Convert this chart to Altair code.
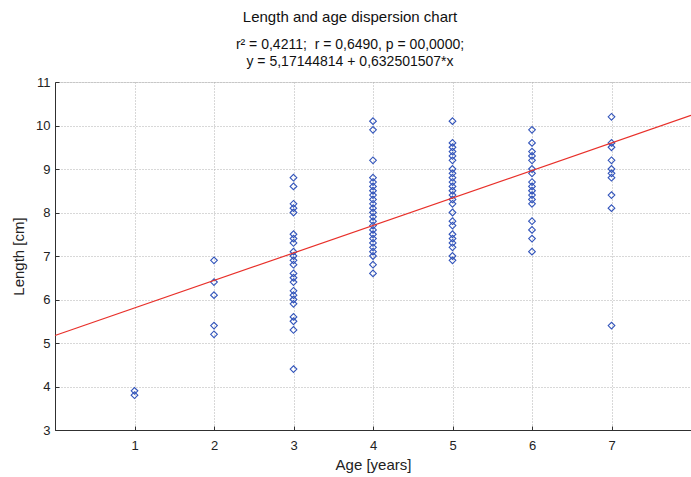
import altair as alt
import pandas as pd

# Lengths [cm] by age [years]
age_1 = [3.9, 3.8]
age_2 = [6.9, 6.4, 6.1, 5.4, 5.2]
age_3 = [8.8, 8.6, 8.2, 8.1, 8.0, 7.5, 7.4, 7.3, 7.1, 7.0, 6.9, 6.8, 6.6, 6.5,
         6.4, 6.2, 6.1, 6.0, 5.9, 5.6, 5.5, 5.3, 4.4]
age_4 = [10.1, 9.9, 9.2, 8.8, 8.7, 8.6, 8.5, 8.4, 8.3, 8.2, 8.1, 8.0, 7.9, 7.8,
         7.7, 7.6, 7.5, 7.4, 7.3, 7.2, 7.1, 7.0, 6.8, 6.6]
age_5 = [10.1, 9.6, 9.5, 9.4, 9.3, 9.2, 9.0, 8.9, 8.8, 8.7, 8.6, 8.5, 8.4, 8.3,
         8.2, 8.0, 7.8, 7.7, 7.5, 7.4, 7.3, 7.2, 7.0, 6.9]
age_6 = [9.9, 9.6, 9.4, 9.3, 9.2, 9.0, 8.9, 8.7, 8.6, 8.5, 8.4, 8.3, 8.2, 7.8,
         7.6, 7.4, 7.1]
age_7 = [10.2, 9.6, 9.5, 9.2, 9.0, 8.9, 8.8, 8.4, 8.1, 5.4]

groups = [age_1, age_2, age_3, age_4, age_5, age_6, age_7]

# Regression coefficients (from the chart subtitle)
intercept = 5.17144814
slope = 0.632501507
line_ages = [0, 8]

x_ticks = [i * 0.25 for i in range(0, 33)]
y_ticks = [3 + i * 0.25 for i in range(0, 33)]

title_text = "Length and age dispersion chart"
subtitle_lines = ["r² = 0,4211;\u00a0\u00a0r = 0,6490, p = 00,0000;",
                  "y = 5,17144814 + 0,632501507*x"]

rows = []
for i, g in enumerate(groups):
    for v in g:
        rows.append({"age": i + 1, "length": v})
df = pd.DataFrame(rows)
line_df = pd.DataFrame({"age": line_ages})

FONT = "Liberation Sans"
grid_cond = {"condition": {"test": "datum.value % 1 === 0", "value": 1}, "value": 0}

x_axis = alt.Axis(
    values=x_ticks,
    title="Age [years]",
    labelExpr="(datum.value % 1 === 0 && datum.value > 0 && datum.value < 8) ? format(datum.value, 'd') : ''",
    grid=True,
    gridOpacity=grid_cond,
    gridColor="#b0b0b0",
    gridDash=[1, 2],
    ticks=True,
    tickSize={"expr": "-4"},
    tickWidth=1,
    tickColor="#303030",
    domainColor="#303030",
    labelFont=FONT, labelFontSize=13, labelColor="#222222",
    labelPadding=13,
    titleFont=FONT, titleFontSize=15, titleFontWeight="normal", titleColor="#222222",
    titlePadding=5,
)
y_axis = alt.Axis(
    values=y_ticks,
    title="Length [cm]",
    labelExpr="datum.value % 1 === 0 ? format(datum.value, 'd') : ''",
    grid=True,
    gridOpacity=grid_cond,
    gridColor="#b0b0b0",
    gridDash=[1, 2],
    ticks=True,
    tickSize={"expr": "-4"},
    tickWidth=1,
    tickColor="#303030",
    domainColor="#303030",
    labelFont=FONT, labelFontSize=13, labelColor="#222222",
    labelPadding=9,
    titleFont=FONT, titleFontSize=15, titleFontWeight="normal", titleColor="#222222",
    titlePadding=9,
)

x_enc = alt.X("age:Q", scale=alt.Scale(domain=[0, 8], nice=False, zero=False), axis=x_axis)
y_enc = alt.Y("length:Q", scale=alt.Scale(domain=[3, 11], nice=False, zero=False), axis=y_axis)

points = alt.Chart(df).mark_point(
    shape="diamond", filled=False, size=45, color="#3355bb", strokeWidth=1.1, opacity=1
).encode(x=x_enc, y=y_enc)

line = alt.Chart(line_df).transform_calculate(
    length=f"{intercept} + {slope} * datum.age"
).mark_line(color="#e8302a", strokeWidth=1.2).encode(
    x=alt.X("age:Q"), y=alt.Y("length:Q")
)

chart = alt.layer(points, line).properties(
    width=636,
    height=348,
    autosize="none",
    padding={"left": 55, "top": 82, "right": 0, "bottom": 47},
    title=alt.TitleParams(
        text=title_text,
        subtitle=subtitle_lines,
        anchor="middle",
        dx=-23,
        offset=7,
        font=FONT, fontSize=15, fontWeight="normal", color="#111111",
        subtitleFont=FONT, subtitleFontSize=14, subtitleColor="#111111",
        subtitlePadding=13, subtitleLineHeight=17,
    ),
).configure_view(stroke=None).configure(background="white")

chart.save("out.html", embed_options={"renderer": "svg", "actions": False})
